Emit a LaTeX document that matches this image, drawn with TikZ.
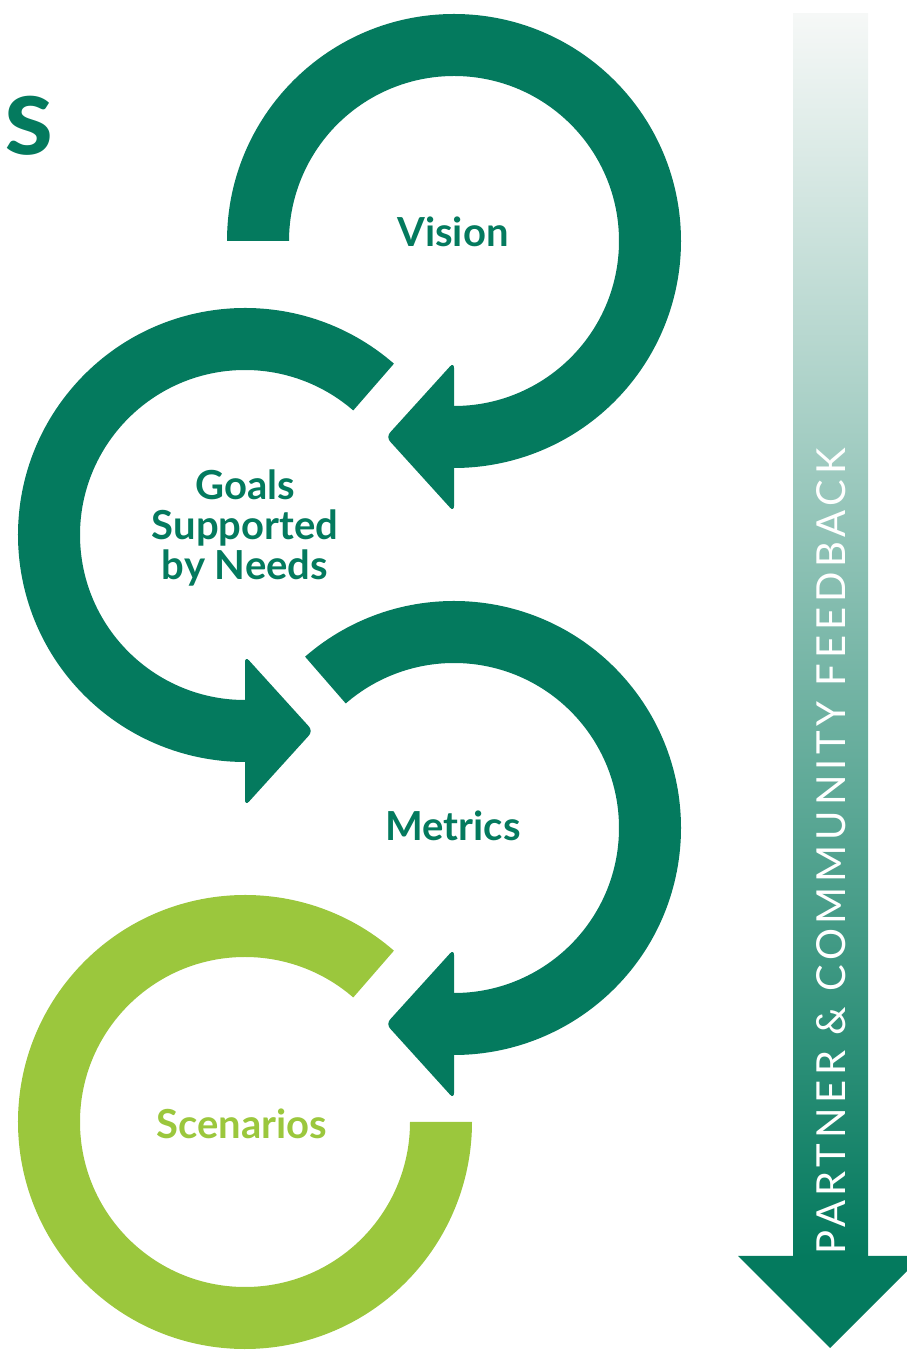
\documentclass[tikz,border=0pt]{standalone}
\usepackage{fontspec}
\setmainfont{Lato}
\newfontfamily\fbfont[LetterSpace=12]{Lato}
\definecolor{dkgreen}{RGB}{4,122,94}
\definecolor{ltgreen}{RGB}{155,199,61}
\definecolor{fadetop}{RGB}{246,248,247}
\begin{document}
\begin{tikzpicture}[x=1pt,y=1pt,
  ringdark/.style={fill=dkgreen},
  ringlight/.style={fill=ltgreen},
  headshape/.style={fill=dkgreen, rounded corners=6pt},
  ringtext/.style={font=\fontsize{40}{40}\selectfont\bfseries, text=dkgreen, inner sep=0pt, align=center},
]
\useasboundingbox (0,0) rectangle (907,1350);
\clip (0,0) rectangle (907,1350);
\coordinate (c1) at (454,1109);
\coordinate (c2) at (245,815);
\coordinate (c3) at (454,522);
\coordinate (c4) at (245,228);
% ring 1
\fill[ringdark] ([shift={(c1)}]180:227pt) arc[start angle=180, end angle=-92, radius=227pt]
  -- ([shift={(c1)}]-92:165pt) arc[start angle=-92, end angle=180, radius=165pt] -- cycle;
\fill[headshape] (454,838) -- (386,913) -- (454,988) -- cycle;
% ring 2
\fill[ringdark] ([shift={(c2)}]49:227pt) arc[start angle=49, end angle=272, radius=227pt]
  -- ([shift={(c2)}]272:165pt) arc[start angle=272, end angle=49, radius=165pt] -- cycle;
\fill[headshape] (245,544) -- (313,619) -- (245,694) -- cycle;
% ring 3
\fill[ringdark] ([shift={(c3)}]131:227pt) arc[start angle=131, end angle=-92, radius=227pt]
  -- ([shift={(c3)}]-92:165pt) arc[start angle=-92, end angle=131, radius=165pt] -- cycle;
\fill[headshape] (454,251) -- (386,326) -- (454,401) -- cycle;
% ring 4
\fill[ringlight] ([shift={(c4)}]49:227pt) arc[start angle=49, end angle=360, radius=227pt]
  -- ([shift={(c4)}]0:165pt) arc[start angle=360, end angle=49, radius=165pt] -- cycle;
% feedback arrow
\shade[top color=fadetop, bottom color=dkgreen] (793,93) rectangle (868,1336);
\fill[dkgreen] (738,94) -- (922,94) -- (830,2) -- cycle;
\node[rotate=90, anchor=base west, inner sep=0pt, text=white, font=\fbfont\fontsize{40}{40}\selectfont] (fb) at (845,95) {PARTNER \& COMMUNITY FEEDBACK};
% labels
\node[ringtext] (vision) at (453,1118) {Vision};
\node[ringtext] (goals) at (245,822) {Goals\\Supported\\by Needs};
\node[ringtext] (metrics) at (453,524) {Metrics};
\node[ringtext, text=ltgreen] (scen) at (242,226) {Scenarios};
\node[font=\fontsize{112}{112}\selectfont\bfseries, text=dkgreen, anchor=base east, inner sep=0pt] (title) at (54,1195) {s};
\end{tikzpicture}
\end{document}
